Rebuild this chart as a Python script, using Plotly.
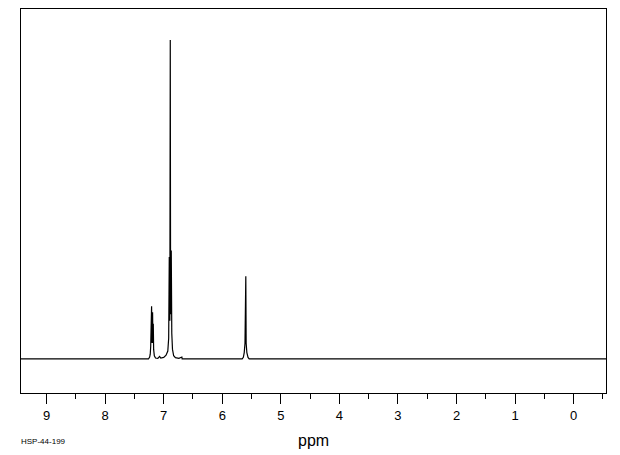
import plotly.graph_objects as go

# Spectrum trace points (chemical shift in ppm, relative intensity)
ppm = [9.44, 7.26, 7.24, 7.23, 7.222, 7.221, 7.215, 7.207, 7.199, 7.190, 7.184, 7.178, 7.172,
       7.16, 7.14, 7.10, 7.07, 7.05, 7.00, 6.96, 6.93, 6.915, 6.905, 6.895, 6.888, 6.882,
       6.871, 6.862, 6.85, 6.83, 6.80, 6.74, 6.69, 6.685, 6.3, 5.66, 5.64, 5.625, 5.612,
       5.607, 5.603, 5.598, 5.592, 5.58, 5.56, 5.54, -0.553]
intensity = [0, 0, 0.6, 1.5, 4, 8.6, 4, 16.5, 5, 14.6, 5, 11, 3,
             1, 0.3, 0.2, 0.8, 0.3, 0.5, 1.2, 2.5, 6.5, 32, 12, 100, 14,
             34, 8, 3, 1, 0.4, 0.2, 0.6, 0, 0, 0, 0.5, 2, 4.9,
             24.4, 10, 25.9, 4.9, 2, 0.5, 0, 0]

tick_vals = [9, 8, 7, 6, 5, 4, 3, 2, 1, 0]
tick_text = [str(v) for v in tick_vals]
x_title = "ppm"
sample_id = "HSP-44-199"

fig = go.Figure()
fig.add_trace(go.Scatter(x=ppm, y=intensity, mode="lines",
                         line=dict(color="black", width=1.2), hoverinfo="skip"))

# page body has an 8px margin, so the figure is 8px smaller and starts at (8, 8)
fig.update_layout(
    width=612, height=447,
    margin=dict(l=12.7, r=14.3, t=1, b=62.3),
    paper_bgcolor="white", plot_bgcolor="white",
    showlegend=False,
    font=dict(family="Liberation Sans", color="black"),
    xaxis=dict(range=[9.437, -0.553], tickvals=tick_vals, ticktext=tick_text,
               ticks="outside", ticklen=10, tickwidth=1, tickcolor="black",
               showline=True, linecolor="black", linewidth=1, mirror=True,
               showgrid=False, zeroline=False,
               tickfont=dict(size=13, color="black"),
               minor=dict(dtick=0.5, tick0=0, ticks="outside", ticklen=5,
                          tickcolor="black", showgrid=False)),
    yaxis=dict(range=[-10.67, 109.7], showticklabels=False, ticks="",
               showline=True, linecolor="black", linewidth=1, mirror=True,
               showgrid=False, zeroline=False),
    annotations=[
        dict(text=x_title, xref="paper", yref="paper", x=0.5, y=-0.123,
             xanchor="center", yanchor="middle", showarrow=False,
             font=dict(size=16, color="black")),
        dict(text=sample_id, xref="paper", yref="paper", x=-0.004, y=-0.126,
             xanchor="left", yanchor="middle", showarrow=False,
             font=dict(size=8, color="black")),
    ],
)

fig.write_html("out.html")
